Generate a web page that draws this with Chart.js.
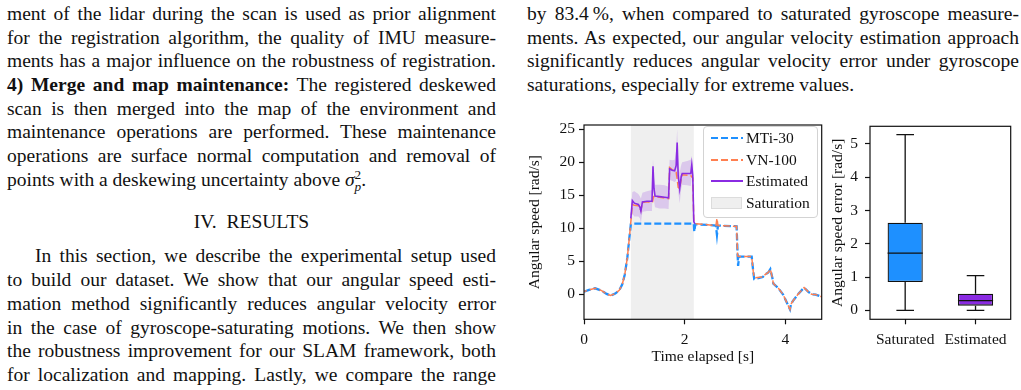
<!DOCTYPE html>
<html>
<head>
<meta charset="utf-8">
<script src="https://cdn.jsdelivr.net/npm/chart.js@4.4.0/dist/chart.umd.min.js"></script>
<style>
html, body { margin: 0; padding: 0; background: #fff; }
body { width: 1021px; height: 390px; position: relative; overflow: hidden;
       font-family: 'Liberation Serif', 'Times New Roman', serif; color: #111; }
.ln { position: absolute; font-size: 19.5px; line-height: 19.5px; height: 19.5px; }
.l { left: 7px; width: 489px; }
.r { left: 527px; width: 492px; }
.j { text-align: justify; text-align-last: justify; }
.c { text-align: center; }
.sig { display: inline-block; vertical-align: -0.32em; font-size: 0.68em; line-height: 0.85; text-align: left; }
.sig span { display: block; }
#legend { position: absolute; left: 703px; top: 126px; width: 113px; height: 90px;
          border: 1px solid #d3d3d3; border-radius: 4px; background: rgba(255,255,255,0.85);
          font-size: 15.5px; z-index: 5; }
.item { position: absolute; left: 0; height: 20px; width: 113px; }
.item svg { position: absolute; left: 7px; top: 0; }
.item span { position: absolute; left: 42px; top: 1px; line-height: 18px; }
canvas { position: absolute; }
</style>
</head>
<body>

<div class="ln l j" style="top:4.2px">ment of the lidar during the scan is used as prior alignment</div>
<div class="ln l j" style="top:27.8px">for the registration algorithm, the quality of IMU measure-</div>
<div class="ln l j" style="top:51.4px">ments has a major influence on the robustness of registration.</div>
<div class="ln l j" style="top:75px"><b>4) Merge and map maintenance:</b> The registered deskewed</div>
<div class="ln l j" style="top:98.6px">scan is then merged into the map of the environment and</div>
<div class="ln l j" style="top:122.2px">maintenance operations are performed. These maintenance</div>
<div class="ln l j" style="top:145.8px">operations are surface normal computation and removal of</div>
<div class="ln l" style="top:169.4px">points with a deskewing uncertainty above <i>σ</i><span class="sig"><span>2</span><span><i>p</i></span></span>.</div>
<div class="ln l c" style="top:212.2px">IV.&nbsp; RESULTS</div>
<div class="ln l j" style="top:246.2px; text-indent:28px">In this section, we describe the experimental setup used</div>
<div class="ln l j" style="top:270px">to build our dataset. We show that our angular speed esti-</div>
<div class="ln l j" style="top:293.8px">mation method significantly reduces angular velocity error</div>
<div class="ln l j" style="top:317.6px">in the case of gyroscope-saturating motions. We then show</div>
<div class="ln l j" style="top:341.4px">the robustness improvement for our SLAM framework, both</div>
<div class="ln l j" style="top:365.2px">for localization and mapping. Lastly, we compare the range</div>

<div class="ln r j" style="top:4.2px">by 83.4&#8201;%, when compared to saturated gyroscope measure-</div>
<div class="ln r j" style="top:27.8px">ments. As expected, our angular velocity estimation approach</div>
<div class="ln r j" style="top:51.4px">significantly reduces angular velocity error under gyroscope</div>
<div class="ln r" style="top:75px">saturations, especially for extreme values.</div>

<canvas id="speedChart" width="310" height="270" style="left:520px; top:110px;"></canvas>
<canvas id="errorChart" width="195" height="270" style="left:826px; top:110px;"></canvas>

<div id="legend">
  <div class="item" style="top:1px"><svg width="32" height="20"><line x1="0" y1="10" x2="32" y2="10" stroke="#1e90ff" stroke-width="2" stroke-dasharray="7,3"/></svg><span>MTi-30</span></div>
  <div class="item" style="top:22.5px"><svg width="32" height="20"><line x1="0" y1="10" x2="32" y2="10" stroke="#ff7f50" stroke-width="2" stroke-dasharray="7,3"/></svg><span>VN-100</span></div>
  <div class="item" style="top:44px"><svg width="32" height="20"><line x1="0" y1="10" x2="32" y2="10" stroke="#8a2be2" stroke-width="2"/></svg><span>Estimated</span></div>
  <div class="item" style="top:65.5px"><svg width="32" height="20"><rect x="0.5" y="4.5" width="30" height="11" fill="#efefef" stroke="#dcdcdc"/></svg><span>Saturation</span></div>
</div>

<script>
// Time series (time in s, speed in rad/s)
const mtiTime = [0, 0.1, 0.22, 0.35, 0.45, 0.53, 0.62, 0.7, 0.76, 0.81,
                 0.86, 0.9, 0.93, 0.96, 2.18, 2.19, 2.21, 2.5, 2.62, 2.64,
                 2.66, 3.03, 3.05, 3.06, 3.08, 3.33, 3.36, 3.38, 3.55, 3.6,
                 3.66, 3.7, 3.74, 3.76, 3.85, 3.95, 4.09, 4.11, 4.15, 4.25,
                 4.37, 4.45, 4.52, 4.6, 4.72];
const mtiSpeed = [0.4, 0.65, 0.9, 0.55, 0.05, -0.2, 0.1, 0.6, 1.5, 3.0,
                  5.5, 8.5, 10.6, 10.7, 10.7, 9.5, 10.6, 10.5, 10.4, 9.0,
                  10.4, 10.3, 6.0, 4.3, 5.7, 5.7, 3.5, 2.3, 2.6, 3.0,
                  3.3, 3.8, 2.5, 1.6, 1.0, 0.0, -2.3, -1.5, -1.0, 0.0,
                  1.0, 0.4, 0.0, -0.05, -0.4];

const vnTime = [0, 0.1, 0.22, 0.35, 0.45, 0.53, 0.62, 0.7, 0.76, 0.81,
                0.86, 0.9, 0.93, 0.96, 1.0, 1.08, 1.11, 1.13, 1.16, 1.25,
                1.36, 1.38, 1.5, 1.68, 1.7, 1.75, 1.83, 1.85, 1.87, 1.9,
                1.93, 1.95, 2.12, 2.16, 2.18, 2.21, 2.5, 2.62, 2.64, 2.66,
                3.03, 3.05, 3.08, 3.33, 3.36, 3.38, 3.55, 3.6, 3.66, 3.7,
                3.74, 3.76, 3.85, 3.95, 4.09, 4.11, 4.15, 4.25, 4.37, 4.45,
                4.52, 4.6, 4.72];
const vnSpeed = [0.4, 0.65, 0.9, 0.55, 0.05, -0.2, 0.1, 0.6, 1.5, 3.0,
                 5.5, 8.5, 11.0, 13.6, 13.5, 13.4, 13.0, 12.7, 13.9, 14.0,
                 13.9, 14.8, 14.7, 14.5, 19.2, 18.9, 18.5, 17.5, 16.2, 16.0,
                 17.5, 18.1, 18.0, 17.6, 11.0, 10.7, 10.5, 10.4, 11.5, 10.4,
                 10.3, 5.8, 5.7, 5.7, 3.5, 2.5, 2.6, 3.0, 3.3, 3.8,
                 2.5, 1.6, 1.0, 0.0, -2.3, -1.5, -1.0, 0.0, 1.0, 0.4,
                 0.0, -0.05, -0.4];

const estTime = [0.93, 0.96, 1.0, 1.08, 1.11, 1.13, 1.16, 1.25, 1.35, 1.37,
                 1.39, 1.41, 1.5, 1.6, 1.68, 1.7, 1.75, 1.8, 1.83, 1.85,
                 1.87, 1.9, 1.93, 1.95, 2.05, 2.12, 2.14, 2.16, 2.18, 2.2];
const estSpeed = [11.5, 14.2, 13.8, 13.6, 13.2, 12.6, 14.0, 14.1, 14.1, 19.4,
                  16.0, 14.9, 14.8, 14.7, 14.6, 19.0, 18.8, 18.7, 19.5, 23.0,
                  18.0, 16.0, 17.8, 18.3, 18.3, 18.3, 19.6, 18.0, 11.0, 10.7];
const estUpper = [12.5, 15.5, 15.6, 15.2, 14.8, 14.5, 15.4, 15.6, 15.8, 20.5,
                  17.6, 16.6, 16.6, 16.5, 16.3, 20.4, 20.3, 20.4, 22.0, 25.0,
                  20.6, 18.4, 19.6, 20.0, 20.2, 20.4, 21.0, 19.6, 11.8, 11.2];
const estLower = [10.5, 12.2, 11.8, 11.8, 11.5, 10.8, 12.5, 12.6, 12.6, 17.8,
                  14.2, 13.2, 13.0, 13.0, 12.9, 17.3, 17.2, 17.0, 17.2, 20.5,
                  15.6, 13.8, 16.0, 16.6, 16.5, 16.4, 17.8, 16.4, 10.2, 10.2];

const saturationSpan = [0.93, 2.18];
const speedTicks = [0, 5, 10, 15, 20, 25];
const timeTicks = [0, 2, 4];

// Box plot (rad/s)
const boxLabels = ['Saturated', 'Estimated'];
const boxColors = ['#1e90ff', '#8a2be2'];
const boxQ1 = [0.85, 0.14];
const boxMedian = [1.72, 0.29];
const boxQ3 = [2.63, 0.5];
const whiskerLow = [0, 0];
const whiskerHigh = [5.28, 1.04];
const errorTicks = [0, 1, 2, 3, 4, 5];

Chart.defaults.font.family = "'Liberation Serif', 'Times New Roman', serif";
Chart.defaults.font.size = 15.5;
Chart.defaults.color = '#111';

function toPoints(xs, ys) {
    return xs.map((x, i) => ({ x: x, y: ys[i] }));
}

// Light grey background for the saturated interval
const saturationPlugin = {
    id: 'saturationSpan',
    beforeDatasetsDraw(chart) {
        const { ctx, chartArea, scales } = chart;
        const x0 = scales.x.getPixelForValue(saturationSpan[0]);
        const x1 = scales.x.getPixelForValue(saturationSpan[1]);
        ctx.save();
        ctx.fillStyle = '#efefef';
        ctx.fillRect(x0, chartArea.top, x1 - x0, chartArea.bottom - chartArea.top);
        ctx.restore();
    }
};

// Full box around the plot area, like matplotlib spines
const framePlugin = {
    id: 'frame',
    afterDraw(chart) {
        const { ctx, chartArea: a } = chart;
        ctx.save();
        ctx.strokeStyle = '#111';
        ctx.lineWidth = 1.2;
        ctx.strokeRect(a.left, a.top, a.right - a.left, a.bottom - a.top);
        ctx.restore();
    }
};

// Whiskers, caps and medians for the box plot
const boxPlugin = {
    id: 'boxParts',
    afterDatasetsDraw(chart) {
        const { ctx, scales } = chart;
        const meta = chart.getDatasetMeta(0);
        ctx.save();
        ctx.strokeStyle = '#111';
        ctx.lineWidth = 1.3;
        meta.data.forEach((bar, i) => {
            const x = scales.x.getPixelForValue(i);
            const half = bar.width / 2;
            const yLo = scales.y.getPixelForValue(whiskerLow[i]);
            const yHi = scales.y.getPixelForValue(whiskerHigh[i]);
            const yQ1 = scales.y.getPixelForValue(boxQ1[i]);
            const yQ3 = scales.y.getPixelForValue(boxQ3[i]);
            const yMed = scales.y.getPixelForValue(boxMedian[i]);
            ctx.beginPath();
            ctx.moveTo(x, yQ1); ctx.lineTo(x, yLo);
            ctx.moveTo(x, yQ3); ctx.lineTo(x, yHi);
            ctx.moveTo(x - half / 2, yLo); ctx.lineTo(x + half / 2, yLo);
            ctx.moveTo(x - half / 2, yHi); ctx.lineTo(x + half / 2, yHi);
            ctx.moveTo(x - half, yMed); ctx.lineTo(x + half, yMed);
            ctx.stroke();
        });
        ctx.restore();
    }
};

function tickGrid() {
    return { display: true, drawOnChartArea: false, drawTicks: true,
             tickLength: 5, tickColor: '#111', tickWidth: 1.2 };
}

// Left: angular speed over time
new Chart(document.getElementById('speedChart'), {
    type: 'line',
    data: {
        datasets: [
            { label: 'Estimated', data: toPoints(estTime, estSpeed), borderColor: '#8a2be2',
              borderWidth: 1.6, order: 1 },
            { label: 'VN-100', data: toPoints(vnTime, vnSpeed), borderColor: '#ff7f50',
              borderWidth: 1.5, borderDash: [7, 3], borderDashOffset: 4, order: 2 },
            { label: 'MTi-30', data: toPoints(mtiTime, mtiSpeed), borderColor: '#1e90ff',
              borderWidth: 2.3, borderDash: [7, 3], order: 3 },
            { label: 'upper', data: toPoints(estTime, estUpper), borderColor: 'transparent',
              borderWidth: 0, backgroundColor: 'rgba(138,43,226,0.2)', fill: '+1', order: 4 },
            { label: 'lower', data: toPoints(estTime, estLower), borderColor: 'transparent',
              borderWidth: 0, fill: false, order: 5 }
        ]
    },
    options: {
        responsive: false,
        animation: false,
        layout: { padding: { top: 15, right: 8.3, bottom: 0, left: 0 } },
        elements: { point: { radius: 0 }, line: { tension: 0 } },
        plugins: { legend: { display: false }, tooltip: { enabled: false } },
        scales: {
            x: {
                type: 'linear', min: 0, max: 4.72,
                afterBuildTicks: axis => { axis.ticks = timeTicks.map(v => ({ value: v })); },
                afterFit: axis => { axis.height = 60.7; },
                grid: tickGrid(), border: { display: false },
                ticks: { padding: 6, maxRotation: 0 },
                title: { display: true, text: 'Time elapsed [s]', padding: { top: 0, bottom: 13.4 } }
            },
            y: {
                type: 'linear', min: -3.8, max: 25.65,
                afterBuildTicks: axis => { axis.ticks = speedTicks.map(v => ({ value: v })); },
                afterFit: axis => { axis.width = 64; },
                grid: tickGrid(), border: { display: false },
                ticks: { padding: 4 },
                title: { display: true, text: 'Angular speed [rad/s]', padding: { top: 5.7, bottom: 0 } }
            }
        }
    },
    plugins: [saturationPlugin, framePlugin]
});

// Right: error distribution
new Chart(document.getElementById('errorChart'), {
    type: 'bar',
    data: {
        labels: boxLabels,
        datasets: [{
            data: boxLabels.map((_, i) => [boxQ1[i], boxQ3[i]]),
            backgroundColor: boxColors,
            borderColor: '#111',
            borderWidth: 1.3,
            borderSkipped: false,
            barPercentage: 0.5,
            categoryPercentage: 1
        }]
    },
    options: {
        responsive: false,
        animation: false,
        layout: { padding: { top: 14, right: 10.3, bottom: 0, left: 0 } },
        plugins: { legend: { display: false }, tooltip: { enabled: false } },
        scales: {
            x: {
                afterFit: axis => { axis.height = 60.7; },
                grid: Object.assign(tickGrid(), { offset: false }),
                border: { display: false },
                ticks: { padding: 6, maxRotation: 0 }
            },
            y: {
                min: -0.27, max: 5.53,
                afterBuildTicks: axis => { axis.ticks = errorTicks.map(v => ({ value: v })); },
                afterFit: axis => { axis.width = 44; },
                grid: tickGrid(), border: { display: false },
                ticks: { padding: 7 },
                title: { display: true, text: 'Angular speed error [rad/s]', padding: { top: 3, bottom: 0 } }
            }
        }
    },
    plugins: [framePlugin, boxPlugin]
});
</script>
</body>
</html>
